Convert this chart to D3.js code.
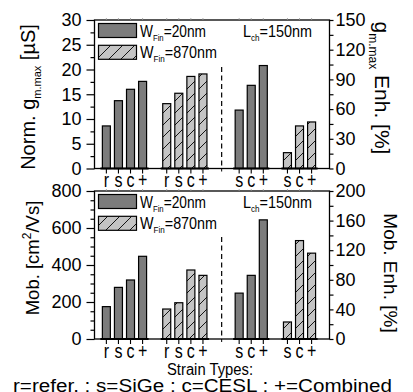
<!DOCTYPE html>
<html><head><meta charset="utf-8">
<script src="https://cdn.jsdelivr.net/npm/d3@7"></script>
<style>
html,body{margin:0;padding:0;background:#fff;}
svg{display:block;}
</style></head>
<body>
<script>
// ---- data ----
const strainLeft = ["r","s","c","+"];
const strainRight = ["s","c","+"];
const gmW20 = [8.6, 13.7, 16.0, 17.6];
const gmW870 = [13.1, 15.2, 18.6, 19.1];
const gmEnhW20 = [59, 84, 104];
const gmEnhW870 = [16, 43, 47];
const mobW20 = [175, 279, 319, 447];
const mobW870 = [162, 196, 373, 344];
const mobEnhW20 = [62, 86, 161];
const mobEnhW870 = [23, 133, 116];
const gmTicks = [0,5,10,15,20,25,30];
const gmEnhTicks = [0,30,60,90,120,150];
const mobTicks = [0,200,400,600,800];
const mobEnhTicks = [0,40,80,120,160,200];
const footnote = "r=refer. ;  s=SiGe ; c=CESL ; +=Combined";

const FONT = "'Liberation Sans', Arial, sans-serif";
const W = 413, H = 392;
const svg = d3.select("body").append("svg").attr("width", W).attr("height", H)
  .attr("font-family", FONT);

const defs = svg.append("defs");
const pat = defs.append("pattern").attr("id","hatch").attr("patternUnits","userSpaceOnUse")
  .attr("width",12).attr("height",12);
pat.append("rect").attr("width",12).attr("height",12).attr("fill","#c4c4c4");
pat.append("path").attr("d","M-1,13 L13,-1 M-4,4 L4,-4 M8,16 L16,8").attr("stroke","#000").attr("stroke-width",0.9);

const xL = 94.5, xR = 329.5;
const slotsA = [0,1,2,3], slotsB = [5,6,7,8], slotsC = [11,12,13], slotsD = [15,16,17];
const x = d3.scaleLinear().domain([-1, 18.5]).range([xL - 0.2, xR + 0.2]);
const bw = 8;

function addText(g, opt) {
  const t = g.append("text").attr("font-family", FONT);
  Object.keys(opt).forEach(k => { if (k !== "parts") t.attr(k, opt[k]); });
  opt.parts.forEach(p => {
    const s = t.append("tspan").text(p.t);
    if (p.dy) s.attr("dy", p.dy);
    if (p.fs) s.attr("font-size", p.fs);
  });
  return t;
}

function panel(opt) {
  const {top, bottom, yL, yRs, lTicks, lMinor, rTicks, rMinor, A, B, C, D, lLabel, rLabel, dashTop} = opt;
  const g = svg.append("g");
  function bars(vals, slots, scale, hatched) {
    g.selectAll(null).data(vals).enter().append("rect")
      .attr("x", (d,i) => x(slots[i]) - bw/2)
      .attr("y", d => scale(d))
      .attr("width", bw)
      .attr("height", d => scale(0) - scale(d))
      .attr("fill", hatched ? "url(#hatch)" : "#7c7c7c")
      .attr("stroke", "#000").attr("stroke-width", 1.2);
  }
  bars(A, slotsA, yL, false);
  bars(B, slotsB, yL, true);
  bars(C, slotsC, yRs, false);
  bars(D, slotsD, yRs, true);

  g.append("rect").attr("x", xL).attr("y", top).attr("width", xR - xL).attr("height", bottom - top)
    .attr("fill","none").attr("stroke","#000").attr("stroke-width",1.3);
  [slotsA, slotsB, slotsC, slotsD].forEach(s => {
    g.append("line").attr("x1", x(s[0]) - bw/2 - 2).attr("x2", x(s[s.length-1]) + bw/2 + 2)
      .attr("y1", bottom).attr("y2", bottom).attr("stroke","#000").attr("stroke-width",2.2);
  });
  g.append("line").attr("x1", x(9.55)).attr("x2", x(9.55)).attr("y1", dashTop).attr("y2", bottom)
    .attr("stroke","#000").attr("stroke-width",1.2).attr("stroke-dasharray","5,3.5");

  const la = g.append("g").attr("transform", `translate(${xL},0)`)
    .call(d3.axisLeft(yL).tickValues(lTicks).tickSize(8).tickPadding(5));
  const lm = g.append("g").attr("transform", `translate(${xL},0)`)
    .call(d3.axisLeft(yL).tickValues(lMinor).tickSize(4).tickFormat(""));
  const ra = g.append("g").attr("transform", `translate(${xR},0)`)
    .call(d3.axisRight(yRs).tickValues(rTicks).tickSize(4).tickPadding(2));
  const rm = g.append("g").attr("transform", `translate(${xR},0)`)
    .call(d3.axisRight(yRs).tickValues(rMinor).tickSize(4).tickFormat(""));
  [la, lm, ra, rm].forEach(a => {
    a.attr("font-family", FONT).attr("font-size", 18);
    a.select(".domain").remove();
    a.selectAll(".tick line").attr("stroke-width", 1.2);
  });

  const allSlots = slotsA.concat(slotsB, slotsC, slotsD);
  const allLabels = strainLeft.concat(strainLeft, strainRight, strainRight);
  g.selectAll(null).data(allSlots).enter().append("line")
    .attr("x1", d => x(d)).attr("x2", d => x(d)).attr("y1", bottom).attr("y2", bottom + 5)
    .attr("stroke","#000").attr("stroke-width",1.1);
  g.append("line").attr("x1", x(9.55)).attr("x2", x(9.55)).attr("y1", bottom).attr("y2", bottom + 3)
    .attr("stroke","#000").attr("stroke-width",1);
  g.selectAll(null).data(allSlots).enter().append("line")
    .attr("x1", d => x(d)).attr("x2", d => x(d)).attr("y1", top).attr("y2", top - 2)
    .attr("stroke","#999").attr("stroke-width",0.8);
  g.selectAll(null).data(allSlots).enter().append("text").attr("font-family", FONT)
    .attr("transform", d => `translate(${x(d)},${bottom + 18.5}) scale(0.8,1)`)
    .attr("text-anchor","middle").attr("font-size", 20).text((d,i) => allLabels[i]);

  const lx = 98.5;
  g.append("rect").attr("x", lx).attr("y", top + 3.5).attr("width", 38).attr("height", 14)
    .attr("fill","#7c7c7c").attr("stroke","#000").attr("stroke-width",1.2);
  g.append("rect").attr("x", lx).attr("y", top + 25.3).attr("width", 38).attr("height", 14)
    .attr("fill","url(#hatch)").attr("stroke","#000").attr("stroke-width",1.2);
  addText(g, {x: 140, y: top + 16.5, "font-size": 16, textLength: 66, lengthAdjust: "spacingAndGlyphs",
    parts: [{t:"W"},{t:"Fin", fs:9, dy:4},{t:"=20nm", dy:-4}]});
  addText(g, {x: 140, y: top + 38.3, "font-size": 16, textLength: 77, lengthAdjust: "spacingAndGlyphs",
    parts: [{t:"W"},{t:"Fin", fs:9, dy:4},{t:"=870nm", dy:-4}]});
  addText(g, {x: 243, y: top + 17, "font-size": 16, textLength: 69, lengthAdjust: "spacingAndGlyphs",
    parts: [{t:"L"},{t:"ch", fs:9, dy:4},{t:"=150nm", dy:-4}]});

  addText(g, {transform: `translate(${lLabel.x},${lLabel.cy}) rotate(-90)`, "text-anchor": "middle",
    "font-size": lLabel.fs, parts: lLabel.parts});
  addText(g, {transform: `translate(${rLabel.x},${rLabel.cy}) rotate(90)`, "text-anchor": "middle",
    "font-size": rLabel.fs, parts: rLabel.parts});
}

const top1 = 20, bot1 = 168.5, top2 = 191, bot2 = 339;
panel({
  top: top1, bottom: bot1,
  yL: d3.scaleLinear().domain([0,30]).range([bot1, top1]),
  yRs: d3.scaleLinear().domain([0,150]).range([bot1, top1]),
  lTicks: gmTicks, lMinor: d3.range(2.5, 30, 5),
  rTicks: gmEnhTicks, rMinor: d3.range(15, 150, 30),
  A: gmW20, B: gmW870, C: gmEnhW20, D: gmEnhW870,
  dashTop: 67,
  lLabel: {x: 35, cy: 97, fs: 20, parts: [{t:"Norm. g"},{t:"m.max", fs:11, dy:6},{t:" [µS]", dy:-6}]},
  rLabel: {x: 375, cy: 88, fs: 21, parts: [{t:"g"},{t:"m.max", fs:12, dy:6},{t:" Enh. [%]", dy:-6}]}
});
panel({
  top: top2, bottom: bot2,
  yL: d3.scaleLinear().domain([0,800]).range([bot2, top2]),
  yRs: d3.scaleLinear().domain([0,200]).range([bot2, top2]),
  lTicks: mobTicks, lMinor: d3.range(50, 800, 50).filter(v => v % 200 !== 0),
  rTicks: mobEnhTicks, rMinor: d3.range(20, 200, 40),
  A: mobW20, B: mobW870, C: mobEnhW20, D: mobEnhW870,
  dashTop: 237,
  lLabel: {x: 39, cy: 258, fs: 18.5, parts: [{t:"Mob. [cm"},{t:"2", fs:12, dy:-8},{t:"/Vs]", dy:8}]},
  rLabel: {x: 384, cy: 273, fs: 19, parts: [{t:"Mob. Enh. [%]"}]}
});

addText(svg, {x: 167, y: 375, "font-size": 16, textLength: 86, lengthAdjust: "spacingAndGlyphs",
  parts: [{t:"Strain Types:"}]});
addText(svg, {x: 13, y: 392, "font-size": 17.5, textLength: 379, lengthAdjust: "spacingAndGlyphs",
  parts: [{t: footnote}]});
</script>
</body></html>
